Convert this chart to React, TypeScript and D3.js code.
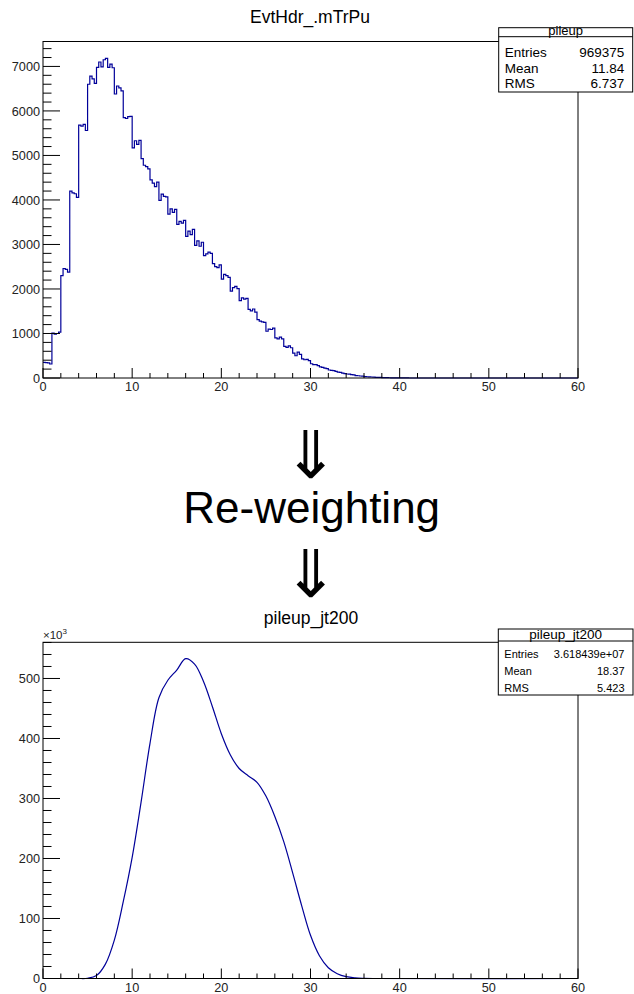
import React from 'react';
import * as d3 from 'd3';

// ---------- data ----------
const topTitle = 'EvtHdr_.mTrPu';
const topStatName = 'pileup';
const topStatLabels = ['Entries', 'Mean', 'RMS'];
const topStatValues = ['969375', '11.84', '6.737'];

const bottomTitle = 'pileup_jt200';
const bottomStatName = 'pileup_jt200';
const bottomStatLabels = ['Entries', 'Mean', 'RMS'];
const bottomStatValues = ['3.618439e+07', '18.37', '5.423'];

const middleText = 'Re-weighting';
const arrowGlyph = '\u21D3';

const xTickValues = [0, 10, 20, 30, 40, 50, 60];
const topYTickValues = [0, 1000, 2000, 3000, 4000, 5000, 6000, 7000];
const bottomYTickValues = [0, 100, 200, 300, 400, 500]; // x10^3

// top histogram: bin width 0.25 from 0 to 41, counts
const topBinWidth = 0.25;
const topCounts = [
  350, 345, 340, 315,
  1010, 985, 1000, 1030,
  2300, 2460, 2440, 2380,
  4200, 4160, 4140, 4060,
  5680, 5660, 5700, 5560,
  6600, 6780, 6720, 6620,
  6980, 7100, 6990, 7150,
  7180, 6980, 7050, 6970,
  6380, 6560, 6520, 6450,
  5850, 5830, 5870, 5880,
  5170, 5330, 5250, 5340,
  4930, 4780, 4750, 4700,
  4450, 4380, 4300, 4400,
  3990, 4130, 4080, 4070,
  3680, 3800, 3720, 3790,
  3450, 3520, 3480, 3540,
  3180, 3300, 3220, 3340,
  2980, 3080, 2960, 3050,
  2750, 2790, 2830, 2800,
  2570, 2500, 2480, 2540,
  2220, 2330, 2300, 2260,
  1950, 2030, 2060, 2010,
  1740, 1800, 1770, 1790,
  1540, 1510, 1550, 1480,
  1310, 1280, 1260, 1250,
  1050, 1100, 1090, 1120,
  900, 880, 920, 880,
  710, 690, 720, 680,
  560, 500, 580, 530,
  430, 410, 420, 390,
  320, 300, 300, 280,
  250, 240, 220, 210,
  180, 170, 165, 150,
  130, 125, 110, 100,
  90, 85, 75, 70,
  55, 50, 45, 40,
  32, 28, 25, 22,
  18, 16, 14, 12,
  10, 8, 7, 6,
  5, 4, 3, 3,
  2, 2, 1, 1,
];

// bottom distribution (values in thousands)
const bottomX = [0, 1, 2, 3, 4, 5, 6, 7, 8, 9, 10, 11, 12, 13, 14, 15, 16, 17, 18, 19, 20, 21, 22, 23, 24, 25, 26, 27, 28, 29, 30, 31, 32, 33, 34, 35, 36, 37, 60];
const bottomY = [0, 0, 0, 0, 0, 0.4, 5, 24, 64, 128, 202, 294, 392, 468, 497, 514, 533, 524, 495, 453, 408, 373, 350, 338, 327, 304, 270, 228, 176, 122, 72, 38, 18, 8, 3, 1, 0.3, 0, 0];

// ---------- layout ----------
const W = 634;
const H = 994;
const FONT = '"Liberation Sans", Arial, Helvetica, sans-serif';
const ARROW_FONT = '"Noto Sans CJK JP", "DejaVu Sans", sans-serif';
const LINE = '#000099';

const frameL = 43;
const frameR = 578;
const top = { y0: 41.5, y1: 378, max: 7560, minor: 200 };
const bot = { y0: 642.3, y1: 978.5, max: 560.3, minor: 20 };

const x = d3.scaleLinear().domain([0, 60]).range([frameL, frameR]);
const yTop = d3.scaleLinear().domain([0, top.max]).range([top.y1, top.y0]);
const yBot = d3.scaleLinear().domain([0, bot.max]).range([bot.y1, bot.y0]);

function Frame({ y0, y1 }: { y0: number; y1: number }) {
  return <rect x={frameL} y={y0} width={frameR - frameL} height={y1 - y0} fill="none" stroke="#000" strokeWidth={1} />;
}

function XAxis({ y1 }: { y1: number }) {
  const minors = d3.range(0, 60.001, 2);
  return (
    <g>
      {minors.map((v) => {
        const major = v % 10 === 0;
        return <line key={v} x1={x(v)} x2={x(v)} y1={y1} y2={y1 - (major ? 10 : 5)} stroke="#000" strokeWidth={1} />;
      })}
      {xTickValues.map((v) => (
        <text key={'l' + v} x={x(v)} y={y1 + 13} textAnchor="middle" fontSize={12.7} fontFamily={FONT} fill="#222">
          {v}
        </text>
      ))}
    </g>
  );
}

function YAxis({ y, maxV, minor, majors }: { y: d3.ScaleLinear<number, number>; maxV: number; minor: number; majors: number[] }) {
  const minors = d3.range(0, maxV, minor);
  const majorStep = majors[1] - majors[0];
  return (
    <g>
      {minors.map((v) => {
        const isMajor = Math.abs(v / majorStep - Math.round(v / majorStep)) < 1e-6;
        return <line key={v} x1={frameL} x2={frameL + (isMajor ? 17 : 8.5)} y1={y(v)} y2={y(v)} stroke="#000" strokeWidth={1} />;
      })}
      {majors.map((v) => (
        <text key={'l' + v} x={40} y={y(v)} dy="0.36em" textAnchor="end" fontSize={12.7} fontFamily={FONT} fill="#222">
          {v}
        </text>
      ))}
    </g>
  );
}

function StatBox({ x0, x1, yTop, yHead, yBottom, name, labels, values, headSize, rowSize, headBase, rowBases }: any) {
  return (
    <g fontFamily={FONT}>
      <rect x={x0} y={yTop} width={x1 - x0} height={yBottom - yTop} fill="#fff" stroke="#000" strokeWidth={1} />
      <line x1={x0} x2={x1} y1={yHead} y2={yHead} stroke="#000" strokeWidth={1} />
      <text x={(x0 + x1) / 2} y={headBase} textAnchor="middle" fontSize={headSize} fill="#000">
        {name}
      </text>
      {labels.map((l: string, i: number) => (
        <g key={l}>
          <text x={x0 + 6} y={rowBases[i]} fontSize={rowSize} fill="#000">
            {l}
          </text>
          <text x={x1 - 8.5} y={rowBases[i]} textAnchor="end" fontSize={rowSize} fill="#000">
            {values[i]}
          </text>
        </g>
      ))}
    </g>
  );
}

export default function App() {
  const stepPts: [number, number][] = topCounts.map((c, i) => [i * topBinWidth, c]);
  stepPts.push([topCounts.length * topBinWidth, 0]);
  stepPts.push([60, 0]);
  const stepLine = d3
    .line<[number, number]>()
    .x((d) => x(d[0]))
    .y((d) => yTop(d[1]))
    .curve(d3.curveStepAfter);
  const topPath = stepLine(stepPts) || '';

  const botLine = d3
    .line<number>()
    .x((_, i) => x(bottomX[i]))
    .y((d) => yBot(Math.max(0, d)))
    .curve(d3.curveCatmullRom.alpha(0.5));
  const botPath = botLine(bottomY) || '';

  return (
    <svg width={W} height={H} style={{ position: 'absolute', left: 0, top: 0, background: '#fff' }}>
      <rect x={0} y={0} width={W} height={H} fill="#fff" />

      {/* top chart */}
      <text x={310} y={22.5} textAnchor="middle" fontSize={17.5} fontFamily={FONT} fill="#000">
        {topTitle}
      </text>
      <path d={topPath} fill="none" stroke={LINE} strokeWidth={1.2} />
      <Frame y0={top.y0} y1={top.y1} />
      <XAxis y1={top.y1} />
      <YAxis y={yTop} maxV={top.max} minor={top.minor} majors={topYTickValues} />
      <StatBox
        x0={498.7}
        x1={632.7}
        yTop={27.7}
        yHead={36.7}
        yBottom={92}
        name={topStatName}
        labels={topStatLabels}
        values={topStatValues}
        headSize={13}
        rowSize={13.5}
        headBase={35}
        rowBases={[57, 72.5, 88]}
      />

      {/* middle */}
      <text x={311} y={477.5} textAnchor="middle" fontSize={66} fontFamily={ARROW_FONT} fill="#000">
        {arrowGlyph}
      </text>
      <text x={311.7} y={523.3} textAnchor="middle" fontSize={44} fontFamily={FONT} fill="#000">
        {middleText}
      </text>
      <text x={311} y={596.5} textAnchor="middle" fontSize={66} fontFamily={ARROW_FONT} fill="#000">
        {arrowGlyph}
      </text>

      {/* bottom chart */}
      <text x={311} y={624} textAnchor="middle" fontSize={17.5} fontFamily={FONT} fill="#000">
        {bottomTitle}
      </text>
      <text x={43} y={638.5} fontSize={11.5} fontFamily={FONT} fill="#222">
        {'\u00D710'}
        <tspan dy={-5} fontSize={8}>
          3
        </tspan>
      </text>
      <path d={botPath} fill="none" stroke={LINE} strokeWidth={1.2} />
      <Frame y0={bot.y0} y1={bot.y1} />
      <XAxis y1={bot.y1} />
      <YAxis y={yBot} maxV={bot.max} minor={bot.minor} majors={bottomYTickValues} />
      <StatBox
        x0={498.3}
        x1={633}
        yTop={629}
        yHead={641}
        yBottom={695}
        name={bottomStatName}
        labels={bottomStatLabels}
        values={bottomStatValues}
        headSize={13.5}
        rowSize={11}
        headBase={638.5}
        rowBases={[658, 675, 691.7]}
      />
    </svg>
  );
}
